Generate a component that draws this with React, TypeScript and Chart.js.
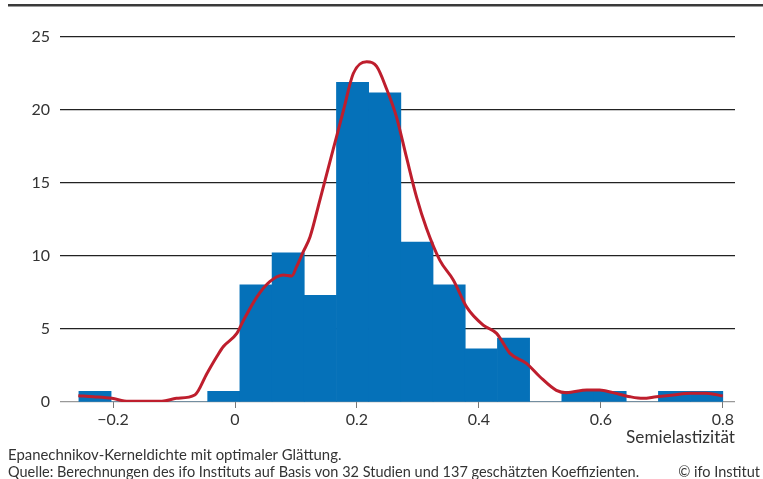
import React, { useEffect, useRef } from 'react';
import { Chart, registerables } from 'chart.js';

Chart.register(...registerables);

// Histogram bins (centres of 20 equal bins from −0.256 to 0.8), share in %
const binCenters = [
  -0.2296, -0.1768, -0.124, -0.0712, -0.0184, 0.0344, 0.0872, 0.14, 0.1928, 0.2456,
  0.2984, 0.3512, 0.404, 0.4568, 0.5096, 0.5624, 0.6152, 0.668, 0.7208, 0.7736,
];
const binValues = [
  0.73, 0, 0, 0, 0.73, 8.03, 10.22, 7.3, 21.9, 21.17,
  10.95, 8.03, 3.65, 4.38, 0, 0.73, 0.73, 0, 0.73, 0.73,
];

// Epanechnikov kernel density
const kdeX = [
  -0.257, -0.232, -0.202, -0.175, -0.12, -0.096, -0.066, -0.046, -0.03, -0.019,
  0.003, 0.014, 0.036, 0.057, 0.079, 0.093, 0.101, 0.112, 0.123, 0.139,
  0.161, 0.178, 0.194, 0.216, 0.232, 0.249, 0.265, 0.281, 0.298, 0.314,
  0.336, 0.358, 0.38, 0.407, 0.429, 0.451, 0.478, 0.5, 0.527, 0.544,
  0.577, 0.598, 0.62, 0.648, 0.669, 0.691, 0.719, 0.746, 0.773, 0.8,
];
const kdeY = [
  0.43, 0.36, 0.25, 0.05, 0.05, 0.25, 0.48, 1.96, 3.1, 3.8,
  4.7, 5.6, 7.2, 8.24, 8.7, 8.63, 9.27, 10.3, 11.3, 13.8,
  17.3, 20.0, 22.5, 23.3, 23.0, 21.4, 19.5, 16.8, 14.0, 11.9,
  9.7, 8.36, 6.5, 5.27, 4.7, 3.33, 2.65, 1.73, 0.8, 0.64,
  0.82, 0.82, 0.64, 0.36, 0.25, 0.36, 0.48, 0.6, 0.6, 0.41,
];

const xTickValues = [-0.2, 0, 0.2, 0.4, 0.6, 0.8];
const xTickLabels = ['\u22120.2', '0', '0.2', '0.4', '0.6', '0.8'];
const yTickValues = [0, 5, 10, 15, 20, 25];
const yTickLabels = ['0', '5', '10', '15', '20', '25'];

const xAxisTitle = 'Semielastizität';
const footerLines = [
  'Epanechnikov-Kerneldichte mit optimaler Glättung.',
  'Quelle: Berechnungen des ifo Instituts auf Basis von 32 Studien und 137 geschätzten Koeffizienten.',
];
const copyright = '© ifo Institut';

const FONT = 'Lato, "Noto Sans", sans-serif';
const TEXT = '#333333';

const decoPlugin = {
  id: 'deco',
  beforeDraw(chart: any) {
    const ctx = chart.ctx;
    ctx.save();
    ctx.fillStyle = '#3a3a3a';
    ctx.fillRect(8, 4, 755, 2.5);
    ctx.restore();
  },
  afterDraw(chart: any) {
    const ctx = chart.ctx;
    ctx.save();
    ctx.fillStyle = TEXT;
    ctx.textBaseline = 'middle';
    ctx.textAlign = 'left';
    ctx.font = `14.9px ${FONT}`;
    ctx.fillText(footerLines[0], 8, 455);
    ctx.font = `14.5px ${FONT}`;
    ctx.fillText(footerLines[1], 8, 472);
    ctx.textAlign = 'right';
    ctx.fillText(copyright, 760, 472);
    ctx.restore();
  },
};

export default function App() {
  const ref = useRef<HTMLCanvasElement | null>(null);
  useEffect(() => {
    if (!ref.current) return;
    const chart = new Chart(ref.current, {
      type: 'bar',
      data: {
        datasets: [
          {
            type: 'line',
            data: kdeX.map((x, i) => ({ x, y: kdeY[i] })),
            borderColor: '#be1e2d',
            borderWidth: 3,
            pointRadius: 0,
            fill: false,
            cubicInterpolationMode: 'monotone',
            order: 0,
          } as any,
          {
            type: 'bar',
            data: binCenters.map((x, i) => ({ x, y: binValues[i] })),
            backgroundColor: '#0571b9',
            borderWidth: 0,
            barPercentage: 1,
            categoryPercentage: 1,
            order: 1,
          } as any,
        ],
      },
      options: {
        responsive: false,
        animation: false,
        devicePixelRatio: 1,
        layout: { padding: { top: 37, right: 28, left: 0, bottom: 0 } },
        plugins: { legend: { display: false }, tooltip: { enabled: false } },
        scales: {
          x: {
            type: 'linear',
            min: -0.287,
            max: 0.82,
            offset: false,
            afterBuildTicks: (s: any) => {
              s.ticks = xTickValues.map((v) => ({ value: v }));
            },
            afterFit: (s: any) => {
              s.height = 77;
            },
            ticks: {
              color: TEXT,
              font: { family: FONT, size: 16 },
              padding: 2,
              maxRotation: 0,
              autoSkip: false,
              callback: (v: any) => {
                const i = xTickValues.findIndex((t) => Math.abs(t - v) < 1e-9);
                return i >= 0 ? xTickLabels[i] : '';
              },
            },
            grid: {
              offset: false,
              drawOnChartArea: false,
              drawTicks: true,
              tickLength: 6,
              color: '#777777',
            },
            border: { display: false },
            title: {
              display: true,
              text: xAxisTitle,
              align: 'end',
              color: TEXT,
              font: { family: FONT, size: 17.2 },
              padding: { top: 0, bottom: 31 },
            },
          },
          y: {
            type: 'linear',
            min: 0,
            max: 25,
            afterBuildTicks: (s: any) => {
              s.ticks = yTickValues.map((v) => ({ value: v }));
            },
            afterFit: (s: any) => {
              s.width = 60;
            },
            ticks: {
              color: TEXT,
              font: { family: FONT, size: 16 },
              padding: 10,
              callback: (v: any) => {
                const i = yTickValues.indexOf(v);
                return i >= 0 ? yTickLabels[i] : '';
              },
            },
            grid: {
              drawTicks: false,
              color: (c: any) => (c.tick && c.tick.value === 0 ? '#999999' : '#222222'),
              lineWidth: 1.2,
            },
            border: { display: false },
          },
        },
      },
      plugins: [decoPlugin],
    });
    return () => chart.destroy();
  }, []);
  return (
    <div style={{ position: 'fixed', left: 0, top: 0, width: 763, height: 479, background: '#fff' }}>
      <canvas ref={ref} width={763} height={479} />
    </div>
  );
}
